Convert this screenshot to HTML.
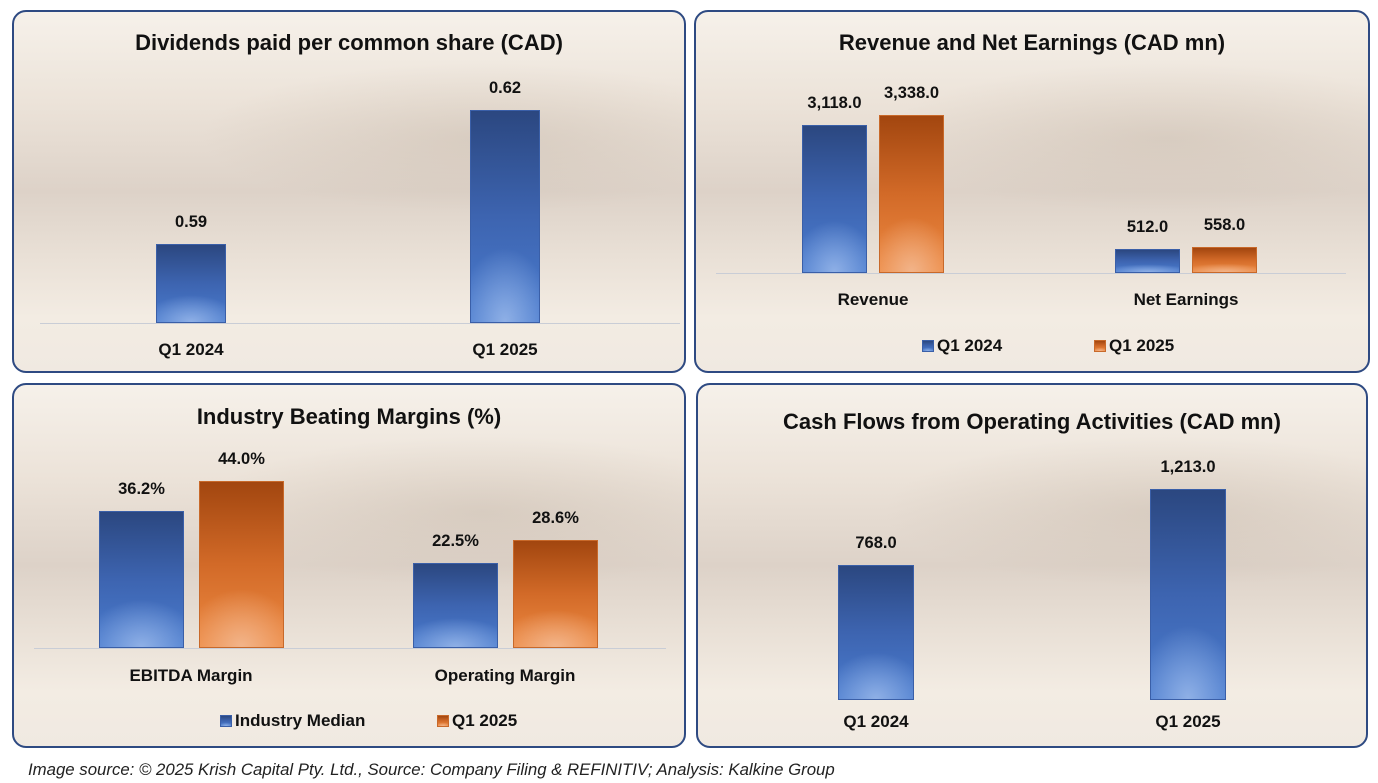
<!DOCTYPE html>
<html><head><meta charset="utf-8">
<style>
body{margin:0;width:1378px;height:783px;background:#fff;position:relative;overflow:hidden;font-family:"Liberation Sans",sans-serif;}
.panel{position:absolute;border:2px solid #2e4a82;border-radius:14px;overflow:hidden;box-sizing:border-box;
background:
radial-gradient(ellipse 60% 30% at 70% 35%, rgba(190,175,160,0.35), rgba(0,0,0,0) 70%),
linear-gradient(180deg,#f6f1ea 0%,#ece3d9 25%,#ddd2c8 50%,#e9e0d6 68%,#f3ece3 85%,#f0e9e1 100%);}
.t{position:absolute;color:#111;font-weight:bold;white-space:nowrap;transform:translateX(-50%);}
.bar{position:absolute;}
.blue{background:radial-gradient(ellipse 70% 35% at 50% 100%,#8fb0e6 0%,rgba(80,130,210,0) 100%),linear-gradient(180deg,#2b4780 0%,#3d64b0 50%,#4a7ccf 100%);border:1px solid #3a5fa8;box-sizing:border-box;}
.orange{background:radial-gradient(ellipse 70% 35% at 50% 100%,#f2b48a 0%,rgba(240,140,70,0) 100%),linear-gradient(180deg,#a2460f 0%,#d26a28 50%,#ee8a42 100%);border:1px solid #c8692a;box-sizing:border-box;}
.axis{position:absolute;height:1px;background:#c9cdd6;}
.sq{position:absolute;width:12px;height:12px;}
</style></head><body>
<div id="p1" class="panel" style="left:12px;top:10px;width:674px;height:363px"></div>
<div id="p2" class="panel" style="left:694px;top:10px;width:676px;height:363px"></div>
<div id="p3" class="panel" style="left:12px;top:383px;width:674px;height:365px"></div>
<div id="p4" class="panel" style="left:696px;top:383px;width:672px;height:365px"></div>
<div class="t" style="left:28px;top:760px;transform:none;font-weight:normal;font-style:italic;font-size:16.8px;color:#222">Image source: © 2025 Krish Capital Pty. Ltd., Source: Company Filing &amp; REFINITIV; Analysis: Kalkine Group</div>
<script>
// Chart 1
const divCats=["Q1 2024","Q1 2025"];
const divVals=[0.59,0.62];
const divLabels=["0.59","0.62"];
// Chart 2
const revCats=["Revenue","Net Earnings"];
const revQ124=[3118.0,512.0];
const revQ125=[3338.0,558.0];
const revSeries=["Q1 2024","Q1 2025"];
// Chart 3
const marCats=["EBITDA Margin","Operating Margin"];
const marMedian=[36.2,22.5];
const marQ125=[44.0,28.6];
const marSeries=["Industry Median","Q1 2025"];
// Chart 4
const cfCats=["Q1 2024","Q1 2025"];
const cfVals=[768.0,1213.0];

function fmt(v,d){return v.toLocaleString('en-US',{minimumFractionDigits:d,maximumFractionDigits:d});}
function add(parent,cls,style,text){const e=document.createElement('div');e.className=cls;Object.assign(e.style,style);if(text!==undefined)e.textContent=text;parent.appendChild(e);return e;}
function title(p,txt,y){const e=add(p,'t',{left:'50%',top:y+'px',fontSize:'22px'},txt);

}
function axisLine(p,x,w,y){const e=add(p,'axis',{left:x+'px',width:w+'px',top:y+'px'});

}
function bar(p,cls,x,w,base,h,label){
const b=add(p,'bar '+cls,{left:x+'px',width:w+'px',top:(base-h)+'px',height:h+'px'});


const l=add(p,'t',{left:(x+w/2)+'px',top:(base-h-31)+'px',fontSize:'16.5px'},label);

}
function catLabel(p,x,y,txt){const e=add(p,'t',{left:x+'px',top:y+'px',fontSize:'17px'},txt);

}
function legend(p,x,y,cls,txt){const s=add(p,'sq '+cls,{left:x+'px',top:(y+4)+'px'});


const t=add(p,'t',{left:(x+15)+'px',top:y+'px',transform:'none',fontSize:'17px'},txt);

}

// Panel 1
(function(){const p=document.getElementById('p1');const ox=14,oy=12;
title(p,'Dividends paid per common share (CAD)',30-oy);
const base=323-oy, k=4467, min=0.5723;
const y=v=>k*(v-min);
axisLine(p,40-ox,640,base);
const cx=[191,505];
divVals.forEach((v,i)=>{bar(p,'blue',cx[i]-35-ox,70,base,y(v),divLabels[i]);catLabel(p,cx[i]-ox,340-oy,divCats[i]);});
})();
// Panel 2
(function(){const p=document.getElementById('p2');const ox=696,oy=12;
title(p,'Revenue and Net Earnings (CAD mn)',30-oy);
const base=273-oy, k=0.0474; const y=v=>k*v;
axisLine(p,716-ox,630,base);
const cx=[873,1186];
revCats.forEach((c,i)=>{
bar(p,'blue',cx[i]-71-ox,65,base,y(revQ124[i]),fmt(revQ124[i],1));
bar(p,'orange',cx[i]+6-ox,65,base,y(revQ125[i]),fmt(revQ125[i],1));
catLabel(p,cx[i]-ox,290-oy,c);});
legend(p,922-ox,336-oy,'blue',revSeries[0]);
legend(p,1094-ox,336-oy,'orange',revSeries[1]);
})();
// Panel 3
(function(){const p=document.getElementById('p3');const ox=14,oy=385;
title(p,'Industry Beating Margins (%)',404-oy);
const base=648-oy, k=3.79; const y=v=>k*v;
axisLine(p,34-ox,632,base);
const cx=[191,505];
marCats.forEach((c,i)=>{
bar(p,'blue',cx[i]-92-ox,85,base,y(marMedian[i]),fmt(marMedian[i],1)+'%');
bar(p,'orange',cx[i]+8-ox,85,base,y(marQ125[i]),fmt(marQ125[i],1)+'%');
catLabel(p,cx[i]-ox,666-oy,c);});
legend(p,220-ox,711-oy,'blue',marSeries[0]);
legend(p,437-ox,711-oy,'orange',marSeries[1]);
})();
// Panel 4
(function(){const p=document.getElementById('p4');const ox=698,oy=385;
title(p,'Cash Flows from Operating Activities (CAD mn)',409-oy);
const base=700-oy, k=0.1708, min=-22; const y=v=>k*(v-min);
const cx=[876,1188];
cfVals.forEach((v,i)=>{bar(p,'blue',cx[i]-38-ox,76,base,y(v),fmt(v,1));catLabel(p,cx[i]-ox,712-oy,cfCats[i]);});
})();
</script>
</body></html>
